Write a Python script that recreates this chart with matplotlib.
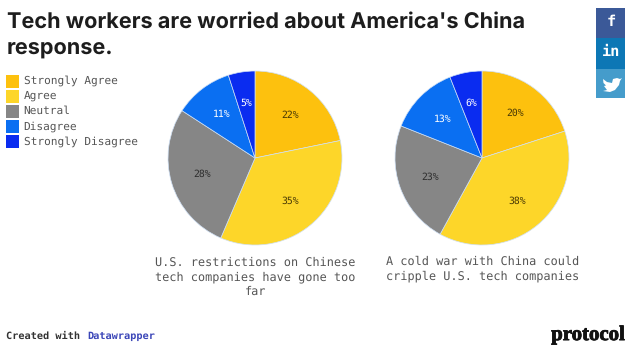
import math

import matplotlib
matplotlib.use("Agg")
import matplotlib.pyplot as plt
import matplotlib.patheffects as pe
from matplotlib.patches import Rectangle, Polygon

plt.rcParams["text.hinting"] = "none"

W, H = 636, 353

categories = ["Strongly Agree", "Agree", "Neutral", "Disagree", "Strongly Disagree"]
colors = ["#fdc10e", "#fdd629", "#868686", "#0a6ff2", "#0a2cf0"]
label_colors = ["#4a3a05", "#4a3a05", "#2e2e2e", "white", "white"]
restrictions = [22, 35, 28, 11, 5]
cold_war = [20, 38, 23, 13, 6]
pct_restrictions = ["22%", "35%", "28%", "11%", "5%"]
pct_cold_war = ["20%", "38%", "23%", "13%", "6%"]
caption_left = "U.S. restrictions on Chinese\ntech companies have gone too\nfar"
caption_right = "A cold war with China could\ncripple U.S. tech companies"

MONO = "DejaVu Sans Mono"


def px_axes(fig, x0, y0, x1, y1):
    # pixel box measured from the top left, like the screenshot
    return fig.add_axes([x0 / W, 1 - y1 / H, (x1 - x0) / W, (y1 - y0) / H])


def draw_pie(fig, cx, cy, r, values, labels):
    ax = px_axes(fig, cx - r, cy - r, cx + r, cy + r)
    ax.pie(values, colors=colors, startangle=90, counterclock=False,
           radius=1, wedgeprops={"edgecolor": "#cfe0f5", "linewidth": 0.5})
    ax.set_xlim(-1, 1)
    ax.set_ylim(-1, 1)
    start = 90.0
    total = sum(values)
    for v, lab, c in zip(values, labels, label_colors):
        mid = start - v / total * 360 / 2
        start -= v / total * 360
        ax.text(0.64 * math.cos(math.radians(mid)), 0.64 * math.sin(math.radians(mid)),
                lab, ha="center", va="center", family=MONO, fontsize=7, color=c)


fig = plt.figure(figsize=(W / 100, H / 100), dpi=100, facecolor="white")
bg = px_axes(fig, 0, 0, W, H)
bg.set_xlim(0, W)
bg.set_ylim(H, 0)
bg.axis("off")

bg.text(7, 22, "Tech workers are worried about America's China", family="Inter",
        weight="bold", fontsize=15.6, color="#1d1d1d", va="center")
bg.text(7, 49, "response.", family="Inter", weight="bold", fontsize=15.6,
        color="#1d1d1d", va="center")

# legend
for i, (name, col) in enumerate(zip(categories, colors)):
    y = 81 + i * 15.1
    bg.add_patch(Rectangle((6, y - 6.5), 13, 13, color=col, lw=0))
    bg.text(23.5, y, name, family=MONO, fontsize=8, color="#555555", va="center")

draw_pie(fig, 255, 158, 87, restrictions, pct_restrictions)
draw_pie(fig, 482, 158, 87, cold_war, pct_cold_war)

bg.text(255.5, 277, caption_left, family=MONO, fontsize=8.6, color="#555555",
        ha="center", va="center", linespacing=1.28)
bg.text(482.5, 269, caption_right, family=MONO, fontsize=8.6, color="#555555",
        ha="center", va="center", linespacing=1.28)

bg.text(6, 336, "Created with ", family=MONO, fontsize=7.4, weight="bold",
        color="#333333", va="center")
bg.text(87, 336, "Datawrapper", family=MONO, fontsize=7.4, weight="bold",
        color="#3b46b8", va="center")
logo = bg.text(625, 335, "protocol", family="Liberation Serif", weight="bold", fontsize=15,
               color="#111111", ha="right", va="center")
logo.set_path_effects([pe.withStroke(linewidth=0.6, foreground="#111111")])

# share buttons
bg.add_patch(Rectangle((596, 8), 29, 30, color="#3b5998", lw=0))
bg.add_patch(Rectangle((596, 38), 29, 31, color="#0d77b5", lw=0))
bg.add_patch(Rectangle((596, 69), 29, 29, color="#459ccb", lw=0))
bg.text(611, 22, "f", family=MONO, weight="bold", fontsize=11, color="white",
        ha="center", va="center")
bg.text(611, 52, "in", family=MONO, weight="bold", fontsize=11, color="white",
        ha="center", va="center")
bird = [(603, 79), (607, 82), (612, 83), (613, 79), (617, 78), (620, 79), (622, 78),
        (620, 81), (619, 85), (615, 90), (610, 92), (603, 91), (607, 90), (604, 86),
        (606, 85.5), (603.5, 83)]
bg.add_patch(Polygon(bird, closed=True, color="white", lw=0))

fig.savefig("out.png", dpi=100, facecolor="white")
